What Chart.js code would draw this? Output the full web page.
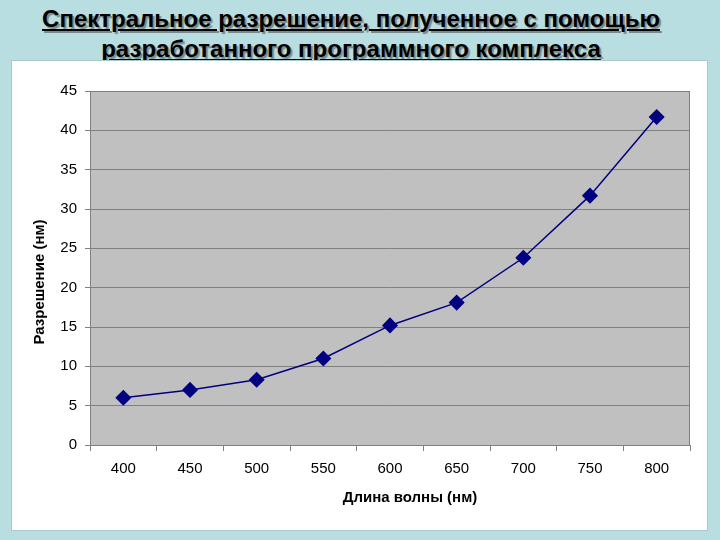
<!DOCTYPE html>
<html><head><meta charset="utf-8">
<script src="https://cdn.jsdelivr.net/npm/chart.js@4.4.1/dist/chart.umd.min.js"></script>
<style>
html,body{margin:0;padding:0;width:720px;height:540px;background:#b9dee2;overflow:hidden;font-family:"Liberation Sans",Arial,sans-serif;}
#title{position:absolute;left:-9px;top:4px;width:720px;text-align:center;font-size:24px;font-weight:bold;line-height:30px;color:#000;text-decoration:underline;text-shadow:2px 2px 1px #7a8a8c;}
#panel{position:absolute;left:12px;top:61px;width:695px;height:469px;background:#fff;box-shadow:0 0 0 1px #a9c9cc;}
canvas{display:block;}
</style></head><body>
<div id="title">Спектральное разрешение, полученное с помощью<br>разработанного программного комплекса</div>
<div id="panel"><canvas id="c" width="695" height="469"></canvas></div>
<script>
const categories = ["400","450","500","550","600","650","700","750","800"];
const resolution = [6.0, 7.0, 8.3, 11.0, 15.2, 18.1, 23.8, 31.7, 41.7];
const yTicks = [0,5,10,15,20,25,30,35,40,45];
const xTitle = "Длина волны (нм)";
const yTitle = "Разрешение (нм)";

const F = '"Liberation Sans", Arial, sans-serif';

const plotBg = {
  id:'plotBg',
  beforeDraw(chart){
    const {ctx, chartArea:a} = chart;
    ctx.save();
    ctx.fillStyle = '#c0c0c0';
    ctx.fillRect(a.left, a.top, a.right-a.left, a.bottom-a.top);
    ctx.restore();
  },
  afterDraw(chart){
    const {ctx, chartArea:a} = chart;
    ctx.save();
    ctx.strokeStyle = '#808080';
    ctx.lineWidth = 1;
    ctx.strokeRect(Math.round(a.left)+0.5, Math.round(a.top)+0.5, Math.round(a.right-a.left)-1, Math.round(a.bottom-a.top));
    // axis titles
    ctx.fillStyle = '#000';
    ctx.font = 'bold 15px ' + F;
    ctx.textAlign = 'center';
    ctx.textBaseline = 'middle';
    const cx = (a.left + a.right) / 2 + 20;
    ctx.fillText(xTitle, cx, a.bottom + 53);
    ctx.translate(28, (a.top + a.bottom) / 2 + 14);
    ctx.rotate(-Math.PI / 2);
    ctx.fillText(yTitle, 0, 0);
    ctx.restore();
  }
};

new Chart(document.getElementById('c'), {
  type:'line',
  data:{labels:categories, datasets:[{
    data:resolution,
    borderColor:'#000080', backgroundColor:'#000080',
    borderWidth:1.5, pointStyle:'rectRot', pointRadius:7, pointHoverRadius:7,
    tension:0, fill:false
  }]},
  options:{
    responsive:false, animation:false,
    layout:{padding:{top:30,right:17,left:0,bottom:0}},
    plugins:{legend:{display:false}, tooltip:{enabled:false}},
    scales:{
      x:{
        offset:true,
        grid:{display:true, drawOnChartArea:false, drawTicks:true, offset:true, tickLength:6, color:'#808080'},
        border:{display:true, color:'#808080'},
        ticks:{color:'#000', font:{family:F, size:15}, padding:9},
        afterFit(s){ s.height = 85; }
      },
      y:{
        min:0, max:45,
        afterBuildTicks(s){ s.ticks = yTicks.map(v=>({value:v})); },
        grid:{color:'#808080', tickLength:5, drawTicks:true},
        border:{display:true, color:'#808080'},
        ticks:{color:'#000', font:{family:F, size:15}, padding:8},
        afterFit(s){ s.width = 78; }
      }
    }
  },
  plugins:[plotBg]
});
</script>
</body></html>
